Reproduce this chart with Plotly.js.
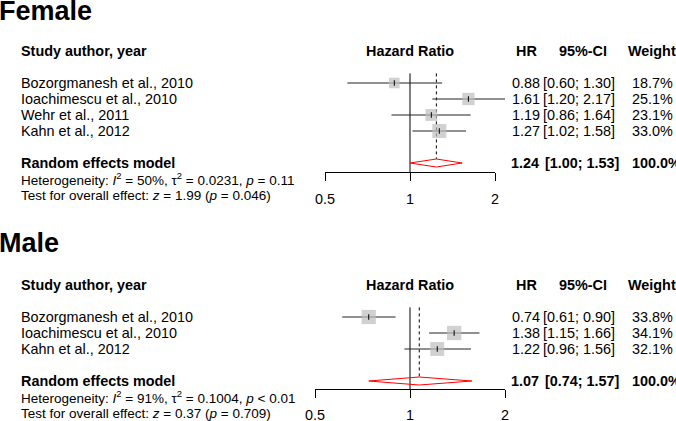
<!DOCTYPE html>
<html><head><meta charset="utf-8">
<script src="https://cdn.plot.ly/plotly-3.0.1.min.js"></script>
<style>html,body{margin:0;padding:0;background:#fff}#chart{width:676px;height:421px}</style>
</head><body><div id="chart"></div>
<script>
// ---------- DATA ----------
const femaleStudies = ["Bozorgmanesh et al., 2010", "Ioachimescu et al., 2010", "Wehr et al., 2011", "Kahn et al., 2012"];
const femaleHR      = [0.88, 1.61, 1.19, 1.27];
const femaleLower   = [0.60, 1.20, 0.86, 1.02];
const femaleUpper   = [1.30, 2.17, 1.64, 1.58];
const femaleWeight  = [18.7, 25.1, 23.1, 33.0];
const femalePooled  = {est: 1.24, lower: 1.00, upper: 1.53, weight: 100.0};
const femaleHet  = "Heterogeneity: <i>I</i><sup>2</sup> = 50%, τ<sup>2</sup> = 0.0231, <i>p</i> = 0.11";
const femaleTest = "Test for overall effect: <i>z</i> = 1.99 (<i>p</i> = 0.046)";

const maleStudies = ["Bozorgmanesh et al., 2010", "Ioachimescu et al., 2010", "Kahn et al., 2012"];
const maleHR      = [0.74, 1.38, 1.22];
const maleLower   = [0.61, 1.15, 0.96];
const maleUpper   = [0.90, 1.66, 1.56];
const maleWeight  = [33.8, 34.1, 32.1];
const malePooled  = {est: 1.07, lower: 0.74, upper: 1.57, weight: 100.0};
const maleHet  = "Heterogeneity: <i>I</i><sup>2</sup> = 91%, τ<sup>2</sup> = 0.1004, <i>p</i> &lt; 0.01";
const maleTest = "Test for overall effect: <i>z</i> = 0.37 (<i>p</i> = 0.709)";

const tickVals = [0.5, 1, 2];
const tickText = ["0.5", "1", "2"];
const headers = {study: "Study author, year", plot: "Hazard Ratio", hr: "HR", ci: "95%-CI", weight: "Weight"};

// ---------- LAYOUT GEOMETRY (pixels) ----------
const W = 676, H = 421;
const FONT = "Liberation Sans, Arial, Helvetica, sans-serif";
const FS = 14.4, FS_SMALL = 13.5, FS_TITLE = 27;
const COL = {study: 21, hr: 512, ci: 543, ciBold: 545, weight: 632, hrHead: 526, ciHead: 583, weightHead: 652};

const panels = [
  {title: "Female", titlePx: 11, rowTop: 83, rowStep: 16, x05: 325, x2: 495, axisPx: 172,
   studies: femaleStudies, hr: femaleHR, lo: femaleLower, up: femaleUpper, w: femaleWeight,
   pooled: femalePooled, het: femaleHet, test: femaleTest},
  {title: "Male", titlePx: 243, rowTop: 317, rowStep: 16, x05: 315, x2: 505, axisPx: 389,
   studies: maleStudies, hr: maleHR, lo: maleLower, up: maleUpper, w: maleWeight,
   pooled: malePooled, het: maleHet, test: maleTest}
];

const traces = [];
const annotations = [];
const layout = {
  width: W, height: H, margin: {l: 0, r: 0, t: 0, b: 0}, showlegend: false,
  paper_bgcolor: "white", plot_bgcolor: "rgba(0,0,0,0)",
  font: {family: FONT, size: FS, color: "black"},
  hovermode: false
};

const L = Math.log10;
const fmt2 = v => v.toFixed(2);
const fmtCI = (a, b) => "[" + fmt2(a) + "; " + fmt2(b) + "]";
const fmtW = v => v.toFixed(1) + "%";

panels.forEach((p, k) => {
  const xa = k === 0 ? "x" : "x2", ya = k === 0 ? "y" : "y2";
  const xv = k === 0 ? "x3" : "x4";
  const axKey = s => s === "x" ? "xaxis" : "xaxis" + s.slice(1);
  const ayKey = s => s === "y" ? "yaxis" : "yaxis" + s.slice(1);
  const rowAt = px => (px - p.rowTop) / p.rowStep;

  // trace axes (full-figure, invisible) mapped so that 0.5 -> x05 px and 2 -> x2 px
  const pxPerDec = (p.x2 - p.x05) / L(4);
  const r0 = L(0.5) - p.x05 / pxPerDec;
  layout[axKey(xa)] = {type: "log", domain: [0, 1], range: [r0, r0 + W / pxPerDec], visible: false,
                       anchor: ya, fixedrange: true};
  if (k === 1) layout[axKey(xa)].overlaying = "x";
  layout[ayKey(ya)] = {domain: [0, 1], range: [rowAt(H), rowAt(0)], visible: false, anchor: xa, fixedrange: true};
  if (k === 1) layout[ayKey(ya)].overlaying = "y";

  // visible HR axis
  layout[axKey(xv)] = {type: "log", domain: [p.x05 / W, p.x2 / W], range: [L(0.5), L(2)],
    anchor: "free", position: (H - p.axisPx) / H, side: "bottom",
    showline: true, linecolor: "black", linewidth: 1, mirror: false,
    ticks: "outside", ticklen: 8, tickwidth: 1, tickcolor: "black",
    tickmode: "array", tickvals: tickVals, ticktext: tickText,
    tickfont: {family: FONT, size: FS, color: "black"}, ticklabelstandoff: k === 0 ? 6 : 5,
    showgrid: false, zeroline: false, fixedrange: true};

  const n = p.studies.length;
  const pooledRow = n + 1;
  const axisRow = rowAt(p.axisPx);
  const topRow = -0.6;

  // reference line at HR = 1
  traces.push({type: "scatter", mode: "lines", xaxis: xa, yaxis: ya, x: [1, 1], y: [topRow, axisRow],
               line: {color: "black", width: 1}, hoverinfo: "skip"});
  // dotted line at pooled estimate
  traces.push({type: "scatter", mode: "lines", xaxis: xa, yaxis: ya, x: [p.pooled.est, p.pooled.est],
               y: [topRow, pooledRow - 0.25], line: {color: "black", width: 1, dash: "dot"}, hoverinfo: "skip"});
  // CI lines
  const cx = [], cy = [];
  for (let i = 0; i < n; i++) { cx.push(p.lo[i], p.up[i], null); cy.push(i, i, null); }
  traces.push({type: "scatter", mode: "lines", xaxis: xa, yaxis: ya, x: cx, y: cy,
               line: {color: "#222", width: 1}, hoverinfo: "skip", connectgaps: false});
  // weighted squares
  traces.push({type: "scatter", mode: "markers", xaxis: xa, yaxis: ya, x: p.hr, y: p.hr.map((_, i) => i),
               marker: {symbol: "square", size: p.w.map(v => 2.45 * Math.sqrt(v)), color: "#bebebe", line: {width: 0}},
               hoverinfo: "skip", cliponaxis: false});
  // point-estimate ticks
  traces.push({type: "scatter", mode: "markers", xaxis: xa, yaxis: ya, x: p.hr, y: p.hr.map((_, i) => i),
               marker: {symbol: "line-ns", size: 4, line: {color: "black", width: 1}},
               hoverinfo: "skip", cliponaxis: false});
  // pooled diamond
  const pd = p.pooled;
  traces.push({type: "scatter", mode: "lines", xaxis: xa, yaxis: ya,
               x: [pd.lower, pd.est, pd.upper, pd.est, pd.lower],
               y: [pooledRow, pooledRow - 0.25, pooledRow, pooledRow + 0.25, pooledRow],
               line: {color: "red", width: 1}, hoverinfo: "skip"});
  // invisible anchor trace for the visible axis
  traces.push({type: "scatter", mode: "lines", xaxis: xv, yaxis: ya, x: [0.5, 2], y: [axisRow, axisRow],
               line: {width: 0}, opacity: 0, hoverinfo: "skip"});

  // ---------- text ----------
  const ann = (text, xpx, row, opts = {}) => annotations.push(Object.assign({
    text, x: xpx / W, xref: "paper", y: row, yref: ya, xanchor: "left", yanchor: "middle",
    showarrow: false, borderpad: 0, borderwidth: 0,
    font: {family: FONT, size: FS, color: "black"}}, opts));

  ann("<b>" + p.title + "</b>", -1, rowAt(p.titlePx), {font: {family: FONT, size: FS_TITLE, color: "black"}});
  ann("<b>" + headers.study + "</b>", COL.study, -2);
  annotations.push({text: "<b>" + headers.plot + "</b>", x: 0, xref: xa, y: -2, yref: ya, xanchor: "center",
                    yanchor: "middle", showarrow: false, borderpad: 0, borderwidth: 0,
                    font: {family: FONT, size: FS, color: "black"}});
  ann("<b>" + headers.hr + "</b>", COL.hrHead, -2, {xanchor: "center"});
  ann("<b>" + headers.ci + "</b>", COL.ciHead, -2, {xanchor: "center"});
  ann("<b>" + headers.weight + "</b>", COL.weightHead, -2, {xanchor: "center"});

  for (let i = 0; i < n; i++) {
    ann(p.studies[i], COL.study, i);
    ann(fmt2(p.hr[i]), COL.hr, i);
    ann(fmtCI(p.lo[i], p.up[i]), COL.ci, i);
    ann(fmtW(p.w[i]), COL.weight, i);
  }
  ann("<b>Random effects model</b>", COL.study, pooledRow);
  ann("<b>" + fmt2(pd.est) + "</b>", COL.hr - 1, pooledRow);
  ann("<b>" + fmtCI(pd.lower, pd.upper) + "</b>", COL.ciBold, pooledRow);
  ann("<b>" + fmtW(pd.weight) + "</b>", COL.weight, pooledRow);
  ann(p.het, COL.study, pooledRow + 1, {font: {family: FONT, size: FS_SMALL, color: "black"}});
  ann(p.test, COL.study, pooledRow + 2, {font: {family: FONT, size: FS_SMALL, color: "black"}});
});

layout.annotations = annotations;
Plotly.newPlot("chart", traces, layout, {staticPlot: true, displayModeBar: false});
</script>
</body></html>
